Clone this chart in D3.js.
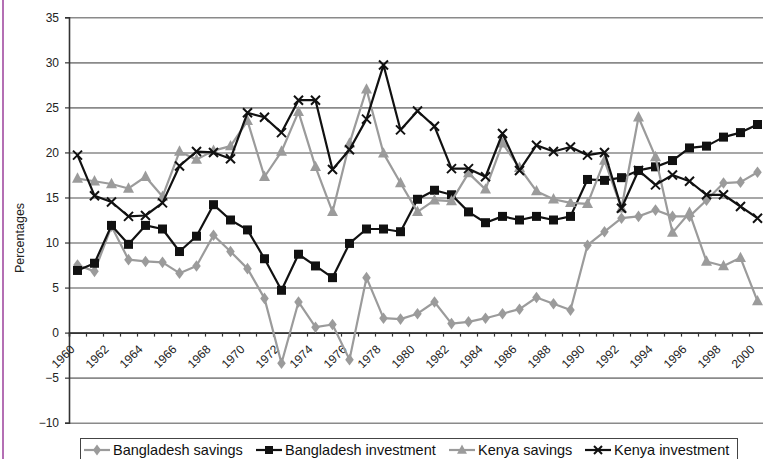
<!DOCTYPE html>
<html>
<head>
<meta charset="utf-8">
<script src="https://cdn.jsdelivr.net/npm/d3@7/dist/d3.min.js"></script>
<style>
  html, body { margin: 0; padding: 0; background: #fff; }
  svg { display: block; font-family: "Liberation Sans", Arial, sans-serif; }
</style>
</head>
<body>
<svg id="chart" width="763" height="459"></svg>
<script>
// Years on the category axis
const years = d3.range(1960, 2001);

// Savings and investment, % of GDP
const bangladeshSavings = [7.5, 6.8, 11.8, 8.1, 7.9, 7.8, 6.6, 7.4, 10.8, 9.0,
  7.1, 3.8, -3.4, 3.4, 0.6, 0.9, -3.0, 6.1, 1.6, 1.5,
  2.1, 3.4, 1.0, 1.2, 1.6, 2.1, 2.6, 3.9, 3.2, 2.5,
  9.7, 11.2, 12.7, 12.9, 13.6, 12.9, 12.9, 14.7, 16.6, 16.7, 17.8];

const bangladeshInvestment = [6.9, 7.7, 11.9, 9.8, 11.9, 11.5, 9.0, 10.7, 14.2, 12.5,
  11.4, 8.2, 4.7, 8.7, 7.4, 6.1, 9.9, 11.5, 11.5, 11.2,
  14.8, 15.8, 15.3, 13.4, 12.2, 12.9, 12.5, 12.9, 12.5, 12.9,
  17.0, 16.9, 17.2, 18.0, 18.4, 19.1, 20.5, 20.7, 21.7, 22.2, 23.1];

const kenyaSavings = [17.1, 16.8, 16.5, 16.0, 17.3, 15.1, 20.1, 19.2, 20.2, 20.7,
  23.5, 17.3, 20.1, 24.5, 18.4, 13.4, 21.0, 27.0, 19.9, 16.6,
  13.4, 14.7, 14.6, 17.7, 15.9, 21.0, 18.3, 15.7, 14.8, 14.4,
  14.3, 19.1, 13.8, 23.9, 19.5, 11.1, 13.3, 7.9, 7.4, 8.3, 3.5];

const kenyaInvestment = [19.7, 15.2, 14.5, 12.9, 13.0, 14.4, 18.5, 20.1, 20.0, 19.3,
  24.4, 23.9, 22.2, 25.8, 25.8, 18.1, 20.3, 23.7, 29.7, 22.5,
  24.6, 22.9, 18.2, 18.2, 17.3, 22.1, 18.0, 20.8, 20.1, 20.6,
  19.7, 20.0, 13.8, 18.0, 16.4, 17.5, 16.8, 15.3, 15.3, 14.0, 12.7];

const seriesNames = ["Bangladesh savings", "Bangladesh investment", "Kenya savings", "Kenya investment"];
const yTicks = [-10, -5, 0, 5, 10, 15, 20, 25, 30, 35];
const xTickLabels = years.filter(y => y % 2 === 0);

const GREY = "#9b9b9b";
const BLACK = "#111";

const series = [
  { name: seriesNames[0], values: bangladeshSavings, color: GREY, marker: "diamond" },
  { name: seriesNames[1], values: bangladeshInvestment, color: BLACK, marker: "square" },
  { name: seriesNames[2], values: kenyaSavings, color: GREY, marker: "triangle" },
  { name: seriesNames[3], values: kenyaInvestment, color: BLACK, marker: "cross" }
];

const svg = d3.select("#chart");
const plot = { left: 69, right: 766, top: 17.3, bottom: 422.7 };

const x = d3.scaleBand().domain(years).range([plot.left, plot.right]).padding(0);
const xEdge = d3.scaleLinear().domain([0, years.length]).range([plot.left, plot.right]);
const y = d3.scaleLinear().domain([-10, 35]).range([plot.bottom, plot.top]);
const cx = yr => x(yr) + x.bandwidth() / 2;

// page frame stroke on the left
svg.append("line").attr("x1", 3).attr("x2", 3).attr("y1", 0).attr("y2", 459)
  .attr("stroke", "#b46fb4").attr("stroke-width", 2);

// horizontal gridlines
svg.append("g")
  .attr("transform", `translate(${plot.left},0)`)
  .call(d3.axisLeft(y).tickValues(yTicks).tickSize(-(plot.right - plot.left)).tickFormat(""))
  .call(g => g.select(".domain").remove())
  .call(g => g.selectAll("line").attr("stroke", "#8a8a8a").attr("stroke-width", 1.6));

// y axis
svg.append("g")
  .attr("transform", `translate(${plot.left},0)`)
  .call(d3.axisLeft(y).tickValues(yTicks).tickSize(4).tickPadding(6))
  .call(g => g.select(".domain").attr("stroke", "#333").attr("stroke-width", 1.6))
  .call(g => g.selectAll(".tick line").attr("stroke", "#333").attr("stroke-width", 1.2))
  .call(g => g.selectAll("text").attr("font-size", 12).attr("fill", "#222")
    .attr("font-family", "Liberation Sans, Arial, sans-serif"));

// x axis along zero, ticks between categories
svg.append("g")
  .attr("transform", `translate(0,${y(0)})`)
  .call(d3.axisBottom(xEdge).tickValues(d3.range(0, years.length + 1)).tickSize(4).tickFormat(""))
  .call(g => g.select(".domain").attr("stroke", "#333").attr("stroke-width", 1.6))
  .call(g => g.selectAll(".tick line").attr("stroke", "#333").attr("stroke-width", 1.2));

// rotated year labels
const yearLabels = svg.append("g").selectAll("g")
  .data(xTickLabels)
  .join("g")
  .attr("transform", d => `translate(${cx(d) - 5},${y(0) + 14.5})`);
yearLabels.append("text")
  .attr("transform", "rotate(-45)")
  .attr("text-anchor", "end")
  .attr("dy", "0.35em")
  .attr("font-size", 12)
  .attr("fill", "#222")
  .text(d => d);

// y axis title
svg.append("text")
  .attr("transform", `translate(24,${(plot.top + plot.bottom) / 2 + 18}) rotate(-90)`)
  .attr("text-anchor", "middle")
  .attr("font-size", 12.5)
  .attr("fill", "#222")
  .text("Percentages");

// marker shapes
function drawMarker(sel, type, color, size) {
  if (type === "diamond") {
    sel.append("path").attr("d", d3.symbol(d3.symbolDiamond, size * 6)()).attr("fill", color)
      .attr("transform", "scale(1.15,0.9)");
  } else if (type === "square") {
    sel.append("rect").attr("x", -size / 2).attr("y", -size / 2).attr("width", size).attr("height", size)
      .attr("fill", color);
  } else if (type === "triangle") {
    const h = size;
    sel.append("path").attr("d", `M0,${-h * 0.62}L${h * 0.55},${h * 0.42}L${-h * 0.55},${h * 0.42}Z`).attr("fill", color);
  } else if (type === "cross") {
    const r = size / 2;
    sel.append("path").attr("d", `M${-r},${-r}L${r},${r}M${-r},${r}L${r},${-r}`)
      .attr("stroke", color).attr("stroke-width", 2).attr("fill", "none");
  }
}

const markerSize = { diamond: 8, square: 9, triangle: 10, cross: 9 };

const line = d3.line().x((d, i) => cx(years[i])).y(d => y(d));

series.forEach(s => {
  const g = svg.append("g");
  g.append("path").datum(s.values)
    .attr("d", line)
    .attr("fill", "none")
    .attr("stroke", s.color)
    .attr("stroke-width", 2.2)
    .attr("stroke-linejoin", "round");
  g.selectAll("g.m").data(s.values).join("g").attr("class", "m")
    .attr("transform", (d, i) => `translate(${cx(years[i])},${y(d)})`)
    .each(function () { drawMarker(d3.select(this), s.marker, s.color, markerSize[s.marker]); });
});

// legend
const legend = svg.append("g");
legend.append("rect").attr("x", 80.5).attr("y", 438.5).attr("width", 657).attr("height", 30)
  .attr("fill", "#fff").attr("stroke", "#444").attr("stroke-width", 1);

const legendX = [84, 256, 449, 585];
series.forEach((s, i) => {
  const g = legend.append("g").attr("transform", `translate(${legendX[i]},450)`);
  g.append("line").attr("x1", 0).attr("x2", 26).attr("y1", 0).attr("y2", 0)
    .attr("stroke", s.color).attr("stroke-width", 2.2);
  const m = g.append("g").attr("transform", "translate(13,0)");
  drawMarker(m, s.marker, s.color, markerSize[s.marker] - 1);
  g.append("text").attr("x", 29).attr("y", 0).attr("dy", "0.35em")
    .attr("font-size", 14.5).attr("fill", "#111").text(s.name);
});
</script>
</body>
</html>
